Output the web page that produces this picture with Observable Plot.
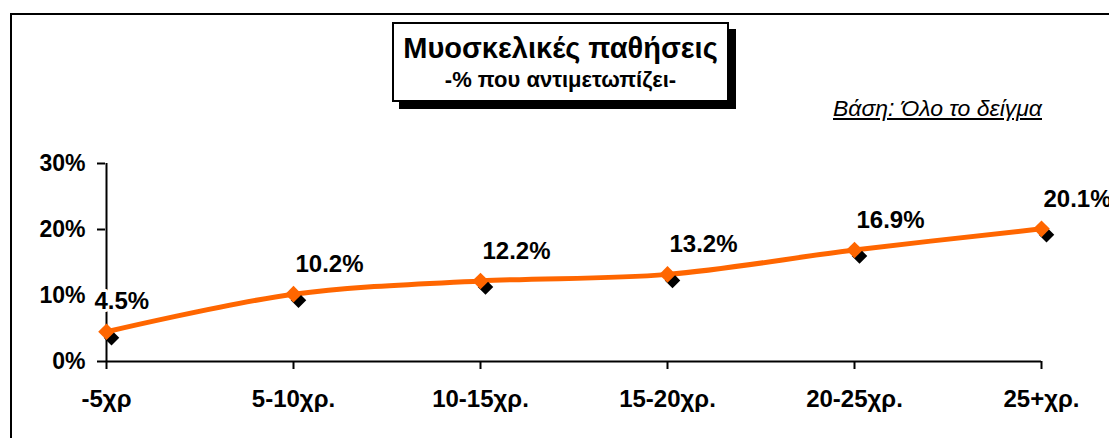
<!DOCTYPE html>
<html>
<head>
<meta charset="utf-8">
<script src="https://cdn.jsdelivr.net/npm/d3@7"></script>
<script src="https://cdn.jsdelivr.net/npm/@observablehq/plot@0.6"></script>
<style>
  body { margin: 0; background: #fff; font-family: "Liberation Sans", Arial, sans-serif; }
  #wrap { position: relative; width: 1109px; height: 438px; overflow: hidden; }
  #frame { position: absolute; left: 10px; top: 13px; width: 1200px; height: 600px; border: 2px solid #000; box-sizing: border-box; }
  #header { position: relative; height: 130px; }
  #titlebox { position: absolute; left: 392px; top: 22px; width: 337px; height: 80px; box-sizing: border-box; border: 2px solid #000; background: #fff; box-shadow: 7px 7px 0 #000; text-align: center; white-space: nowrap; }
  #title { font-weight: bold; font-size: 29px; line-height: 29px; margin-top: 10px; }
  #subtitle { font-weight: bold; font-size: 22px; line-height: 22px; margin-top: 6px; }
  #base { position: absolute; right: 67px; top: 95px; font-style: italic; font-size: 23px; text-decoration: underline; white-space: nowrap; }
  #chart { position: relative; }
</style>
</head>
<body>
<div id="wrap">
  <div id="frame"></div>
  <div id="header">
    <div id="titlebox">
      <div id="title">Μυοσκελικές παθήσεις</div>
      <div id="subtitle">-% που αντιμετωπίζει-</div>
    </div>
    <div id="base">Βάση: Όλο το δείγμα</div>
  </div>
  <div id="chart"></div>
</div>
<script>
const categories = ["-5χρ", "5-10χρ.", "10-15χρ.", "15-20χρ.", "20-25χρ.", "25+χρ."];
const values = [4.5, 10.2, 12.2, 13.2, 16.9, 20.1];
const yTicks = [0, 0.1, 0.2, 0.3];

const data = categories.map((c, i) => ({cat: c, v: values[i] / 100, label: values[i].toFixed(1) + "%"}));

const labelStyle = {x: "cat", y: "v", text: "label", textAnchor: "start", lineAnchor: "middle", dy: -30, fontSize: 24, fontWeight: "bold", fill: "#000", stroke: "#fff", strokeWidth: 6, paintOrder: "stroke"};

const chart = Plot.plot({
  width: 1109,
  height: 308,
  marginLeft: 105,
  marginRight: 68,
  marginTop: 33,
  marginBottom: 77,
  style: {fontFamily: "'Liberation Sans', Arial, sans-serif", fontSize: "24px", fontWeight: "bold", color: "#000", background: "transparent", overflow: "visible"},
  x: {type: "point", domain: categories, padding: 0},
  y: {domain: [0, 0.3]},
  marks: [
    Plot.ruleY([0], {stroke: "#000", strokeWidth: 2}),
    Plot.ruleX([categories[0]], {y1: 0, y2: 0.3, stroke: "#000", strokeWidth: 2}),
    Plot.axisY({ticks: yTicks, tickFormat: d3.format(".0%"), tickSize: 8, tickPadding: 12, label: null, strokeWidth: 2, stroke: "#000", fontSize: 23}),
    Plot.axisX({tickSize: 8, tickPadding: 20, label: null, strokeWidth: 2, stroke: "#000", fontSize: 24}),
    Plot.line(data, {x: "cat", y: "v", stroke: "#FF6600", strokeWidth: 5, curve: "catmull-rom"}),
    Plot.dot(data, {x: "cat", y: "v", symbol: "diamond2", r: 7, fill: "#000", dx: 5, dy: 6}),
    Plot.dot(data, {x: "cat", y: "v", symbol: "diamond2", r: 7.5, fill: "#FF6600"}),
    Plot.text(data.slice(0, 1), {...labelStyle, dx: -12}),
    Plot.text(data.slice(1), {...labelStyle, dx: 2})
  ]
});
document.getElementById("chart").appendChild(chart);
</script>
</body>
</html>
